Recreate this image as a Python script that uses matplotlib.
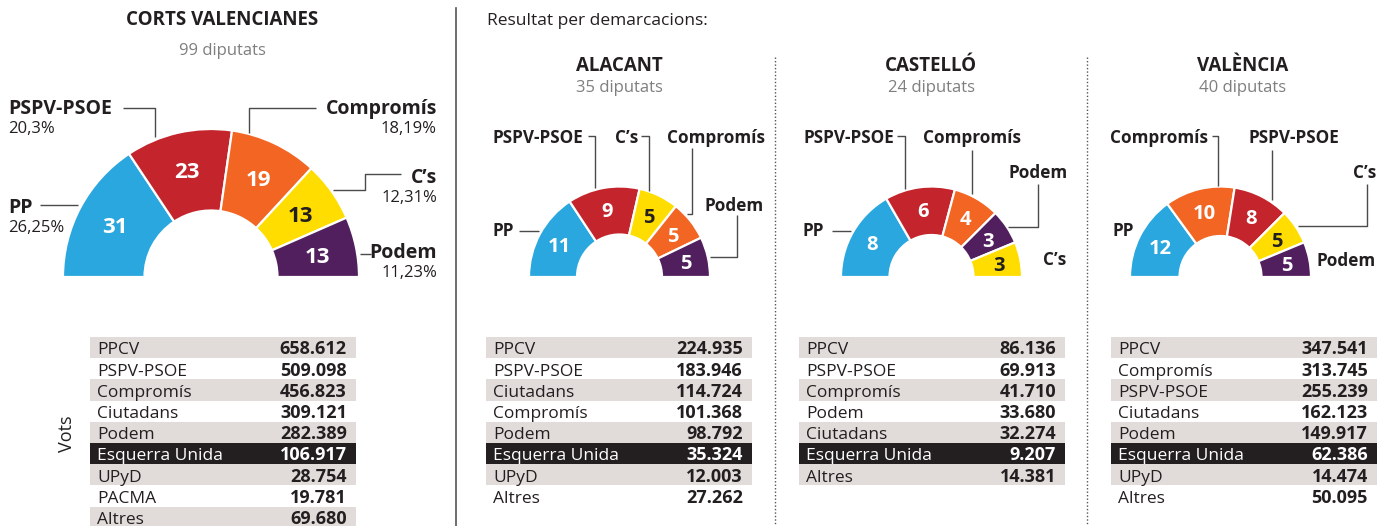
import numpy as np
import matplotlib
matplotlib.use('Agg')
import matplotlib.pyplot as plt
from matplotlib import font_manager
from matplotlib.patches import Wedge, Rectangle

# Eleccions Corts Valencianes: escons i vots

corts_partits = ['PP', 'PSPV-PSOE', 'Compromís', 'C’s', 'Podem']
corts_escons = [31, 23, 19, 13, 13]
corts_pct = ['26,25%', '20,3%', '18,19%', '12,31%', '11,23%']

alacant_partits = ['PP', 'PSPV-PSOE', 'C’s', 'Compromís', 'Podem']
alacant_escons = [11, 9, 5, 5, 5]

castello_partits = ['PP', 'PSPV-PSOE', 'Compromís', 'Podem', 'C’s']
castello_escons = [8, 6, 4, 3, 3]

valencia_partits = ['PP', 'Compromís', 'PSPV-PSOE', 'C’s', 'Podem']
valencia_escons = [12, 10, 8, 5, 5]

corts_noms = ['PPCV', 'PSPV-PSOE', 'Compromís', 'Ciutadans', 'Podem',
              'Esquerra Unida', 'UPyD', 'PACMA', 'Altres']
corts_vots = [658612, 509098, 456823, 309121, 282389, 106917, 28754, 19781, 69680]

alacant_noms = ['PPCV', 'PSPV-PSOE', 'Ciutadans', 'Compromís', 'Podem',
                'Esquerra Unida', 'UPyD', 'Altres']
alacant_vots = [224935, 183946, 114724, 101368, 98792, 35324, 12003, 27262]

castello_noms = ['PPCV', 'PSPV-PSOE', 'Compromís', 'Podem', 'Ciutadans',
                 'Esquerra Unida', 'Altres']
castello_vots = [86136, 69913, 41710, 33680, 32274, 9207, 14381]

valencia_noms = ['PPCV', 'Compromís', 'PSPV-PSOE', 'Ciutadans', 'Podem',
                 'Esquerra Unida', 'UPyD', 'Altres']
valencia_vots = [347541, 313745, 255239, 162123, 149917, 62386, 14474, 50095]

colors = {'PP': '#29A7DE', 'PSPV-PSOE': '#C4252D', 'Compromís': '#F26522',
          'C’s': '#FFDD00', 'Podem': '#521F5E'}

plt.rcParams['font.family'] = ['Open Sans', 'DejaVu Sans']

# font estreta per a les taules, si hi és
noms_fonts = {f.name for f in font_manager.fontManager.ttflist}
if 'Liberation Sans Narrow' in noms_fonts:
    FONT_TAULA, FS_TAULA = 'Liberation Sans Narrow', 13.5
else:
    FONT_TAULA, FS_TAULA = 'Open Sans', 12.5

W, H = 1390, 526
TXT = '#231F20'
GRIS = '#7F7F7F'
LINIA = '#4A4A4A'

fig = plt.figure(figsize=(13.9, 5.26), dpi=100)
ax = fig.add_axes([0, 0, 1, 1])


def hemicicle(cx, cy, r_out, r_in, partits, escons, fs):
    total = sum(escons)
    ang = 180.0
    for p, n in zip(partits, escons):
        a2 = ang + 180.0 * n / total
        ax.add_patch(Wedge((cx, cy), r_out, ang, a2, width=r_out - r_in,
                           facecolor=colors[p], edgecolor='white', lw=1.6))
        m = np.radians((ang + a2) / 2)
        r = (r_out + r_in) / 2 + 2
        ax.text(cx + r * np.cos(m), cy + r * np.sin(m), str(n),
                ha='center', va='center_baseline', fontsize=fs,
                fontweight='bold', color=TXT if p == 'C’s' else 'white')
        ang = a2


def guia(xs, ys):
    ax.plot(xs, ys, color=LINIA, lw=1, solid_capstyle='butt')


def etiqueta(x, y, s, ha='left', fs=12.3):
    ax.text(x, y, s, ha=ha, va='baseline', fontsize=fs, fontweight='bold', color=TXT)


ROW = 21.2


def taula(x0, x1, y0, noms, vots):
    for i, (n, v) in enumerate(zip(noms, vots)):
        top = y0 + i * ROW
        tc = TXT
        if n == 'Esquerra Unida':
            ax.add_patch(Rectangle((x0, top), x1 - x0, ROW, facecolor='#231F20', lw=0))
            tc = 'white'
        elif i % 2 == 0:
            ax.add_patch(Rectangle((x0, top), x1 - x0, ROW, facecolor='#E1DCDA', lw=0))
        ax.text(x0 + 7, top + 17.3, n, ha='left', va='baseline', fontsize=FS_TAULA,
                family=FONT_TAULA, color=tc)
        ax.text(x1 - 9, top + 17.3, f'{v:,}'.replace(',', '.'), ha='right',
                va='baseline', fontsize=13, fontweight='bold', color=tc)


# --- Corts Valencianes ---
ax.text(222, 25, 'CORTS VALENCIANES', ha='center', va='baseline',
        fontsize=13.5, fontweight='bold', color=TXT)
ax.text(222, 55, '99 diputats', ha='center', va='baseline', fontsize=12, color=GRIS)
hemicicle(211, 277, 148, 66.5, corts_partits, corts_escons, 16)

etiqueta(8, 114, 'PSPV-PSOE', fs=14)
ax.text(8, 133, corts_pct[1], va='baseline', fontsize=12, color=TXT)
guia([123, 155, 155], [108, 108, 137])

etiqueta(8, 213, 'PP', fs=14)
ax.text(8, 232, corts_pct[0], va='baseline', fontsize=12, color=TXT)
guia([40, 78], [205, 205])

etiqueta(437, 114, 'Compromís', ha='right', fs=14)
ax.text(437, 133, corts_pct[2], ha='right', va='baseline', fontsize=12, color=TXT)
guia([316, 249, 249], [108, 108, 133])

etiqueta(437, 183, 'C’s', ha='right', fs=14)
ax.text(437, 202, corts_pct[3], ha='right', va='baseline', fontsize=12, color=TXT)
guia([401, 365, 365, 333], [174, 174, 190, 190])

etiqueta(437, 258, 'Podem', ha='right', fs=14)
ax.text(437, 277, corts_pct[4], ha='right', va='baseline', fontsize=12, color=TXT)
guia([371, 360], [254, 254])

ax.text(67, 434, 'Vots', ha='center', va='center', rotation=90, fontsize=13, color=TXT)
taula(90, 356, 337, corts_noms, corts_vots)

ax.plot([456, 456], [8, 526], color='#555555', lw=1.2)

# --- Demarcacions ---
ax.text(487, 25, 'Resultat per demarcacions:', ha='left', va='baseline',
        fontsize=12.5, color=TXT)

for x in (775, 1087):
    ax.plot([x, x], [57, 526], color='#555555', lw=1, ls=(0, (1, 1.5)))

# Alacant
ax.text(619, 71, 'ALACANT', ha='center', va='baseline', fontsize=13.5,
        fontweight='bold', color=TXT)
ax.text(619, 92, '35 diputats', ha='center', va='baseline', fontsize=12, color=GRIS)
hemicicle(619.5, 277, 90.5, 42.5, alacant_partits, alacant_escons, 14.5)
etiqueta(583, 143, 'PSPV-PSOE', ha='right')
guia([588, 595, 595], [136, 136, 188])
etiqueta(638, 143, 'C’s', ha='right')
guia([641, 649, 649], [136, 136, 191])
etiqueta(667, 143, 'Compromís')
guia([692, 692, 687], [148, 214, 214])
etiqueta(705, 211, 'Podem')
guia([737, 737, 710], [215, 257, 257])
etiqueta(492, 236, 'PP')
guia([519, 539], [231, 231])
taula(486, 752, 337, alacant_noms, alacant_vots)

# Castelló
ax.text(931, 71, 'CASTELLÓ', ha='center', va='baseline', fontsize=13.5,
        fontweight='bold', color=TXT)
ax.text(931, 92, '24 diputats', ha='center', va='baseline', fontsize=12, color=GRIS)
hemicicle(931.5, 277, 90.5, 42, castello_partits, castello_escons, 14.5)
etiqueta(894, 143, 'PSPV-PSOE', ha='right')
guia([897, 905, 905], [136, 136, 189])
etiqueta(923, 143, 'Compromís')
guia([972, 972], [150, 194])
etiqueta(1008, 178, 'Podem')
guia([1038, 1038, 1008], [184, 227, 227])
etiqueta(1043, 265, 'C’s')
etiqueta(802, 236, 'PP')
guia([832, 851], [231, 231])
taula(799, 1065, 337, castello_noms, castello_vots)

# València
ax.text(1243, 71, 'VALÈNCIA', ha='center', va='baseline', fontsize=13.5,
        fontweight='bold', color=TXT)
ax.text(1243, 92, '40 diputats', ha='center', va='baseline', fontsize=12, color=GRIS)
hemicicle(1220.5, 277, 90.5, 41, valencia_partits, valencia_escons, 14.5)
etiqueta(1208, 143, 'Compromís', ha='right')
guia([1212, 1218, 1218], [136, 136, 186])
etiqueta(1249, 143, 'PSPV-PSOE')
guia([1272, 1272], [150, 200])
etiqueta(1376, 178, 'C’s', ha='right')
guia([1367, 1367, 1298], [184, 226, 226])
etiqueta(1376, 266, 'Podem', ha='right')
etiqueta(1113, 236, 'PP')
taula(1111, 1377, 337, valencia_noms, valencia_vots)

ax.set_xlim(0, W)
ax.set_ylim(H, 0)
ax.set_aspect('auto')
ax.axis('off')

fig.savefig('out.png', dpi=100)
